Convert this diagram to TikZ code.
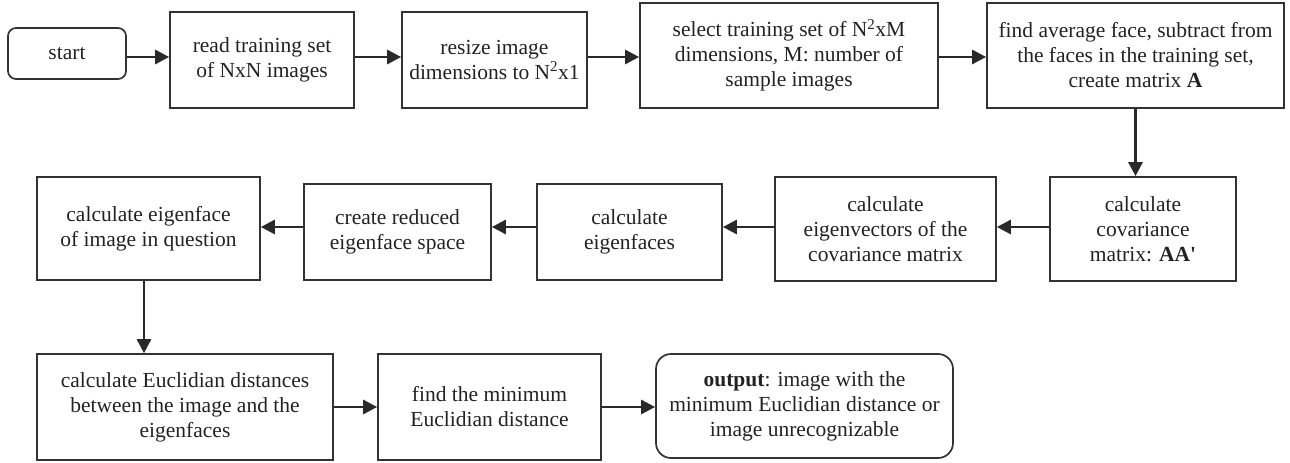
\documentclass[tikz,border=0pt]{standalone}
\usepackage{fontspec}
\setmainfont{Liberation Serif}
\usetikzlibrary{arrows.meta}
\definecolor{boxline}{HTML}{333333}
\definecolor{txt}{HTML}{222222}
\tikzset{
  box/.style={draw=boxline, line width=1.7pt, inner sep=0pt, align=center, text=txt,
    font=\fontsize{21.5}{25}\selectfont},
  roundbox/.style={box, rounded corners=#1},
  arr/.style={draw=boxline!80!black, line width=2.8pt, -{Triangle[length=14pt,width=14pt]}},
}
\begin{document}
\begin{tikzpicture}[x=1pt,y=-1pt]
\useasboundingbox (0,0) rectangle (1290,463);
% row 1
\node[roundbox=8pt, minimum width=118pt, minimum height=51pt] (start) at (67,53.5) {start};
\node[box, minimum width=184pt, minimum height=96pt] (read) at (262,60) {read training set\\of NxN images};
\node[box, minimum width=185pt, minimum height=96pt] (resize) at (494.5,60) {resize image\\dimensions to N\textsuperscript{2}x1};
\node[box, minimum width=298pt, minimum height=105pt] (select) at (789,55.5) {select training set of N\textsuperscript{2}xM\\dimensions, M: number of\\sample images};
\node[box, minimum width=297pt, minimum height=105pt] (find) at (1135.5,55.5) {find average face, subtract from\\the faces in the training set,\\create matrix \textbf{A}};
% row 2
\node[box, minimum width=223pt, minimum height=103pt] (eigface) at (148.5,228.5) {calculate eigenface\\of image in question};
\node[box, minimum width=187pt, minimum height=96pt] (reduced) at (397.5,232) {create reduced\\eigenface space};
\node[box, minimum width=185pt, minimum height=96pt] (eigfaces) at (629.5,232) {calculate\\eigenfaces};
\node[box, minimum width=221pt, minimum height=104pt] (eigvec) at (885.5,229) {calculate\\eigenvectors of the\\covariance matrix};
\node[box, minimum width=186pt, minimum height=104pt] (cov) at (1143,229) {calculate\\covariance\\matrix: \textbf{AA\textquotesingle}};
% row 3
\node[box, minimum width=296pt, minimum height=106pt] (euclid) at (185,407) {calculate Euclidian distances\\between the image and the\\eigenfaces};
\node[box, minimum width=223pt, minimum height=106pt] (findmin) at (489.5,407) {find the minimum\\Euclidian distance};
\node[roundbox=15pt, minimum width=297pt, minimum height=104pt] (output) at (804.5,406) {\textbf{output}: image with the\\minimum Euclidian distance or\\image unrecognizable};
% connectors
\coordinate (r1) at (0,57);
\draw[arr] (start.east |- r1) -- (read.west |- r1);
\draw[arr] (read.east |- r1) -- (resize.west |- r1);
\draw[arr] (resize.east |- r1) -- (select.west |- r1);
\draw[arr] (select.east |- r1) -- (find.west |- r1);
\draw[arr] (find.south) -- (find.south |- cov.north);
\coordinate (r2) at (0,227);
\draw[arr] (cov.west |- r2) -- (eigvec.east |- r2);
\draw[arr] (eigvec.west |- r2) -- (eigfaces.east |- r2);
\draw[arr] (eigfaces.west |- r2) -- (reduced.east |- r2);
\draw[arr] (reduced.west |- r2) -- (eigface.east |- r2);
\coordinate (c3) at (144,0);
\draw[arr] (eigface.south -| c3) -- (euclid.north -| c3);
\coordinate (r3) at (0,407);
\draw[arr] (euclid.east |- r3) -- (findmin.west |- r3);
\draw[arr] (findmin.east |- r3) -- (output.west |- r3);
\end{tikzpicture}
\end{document}
